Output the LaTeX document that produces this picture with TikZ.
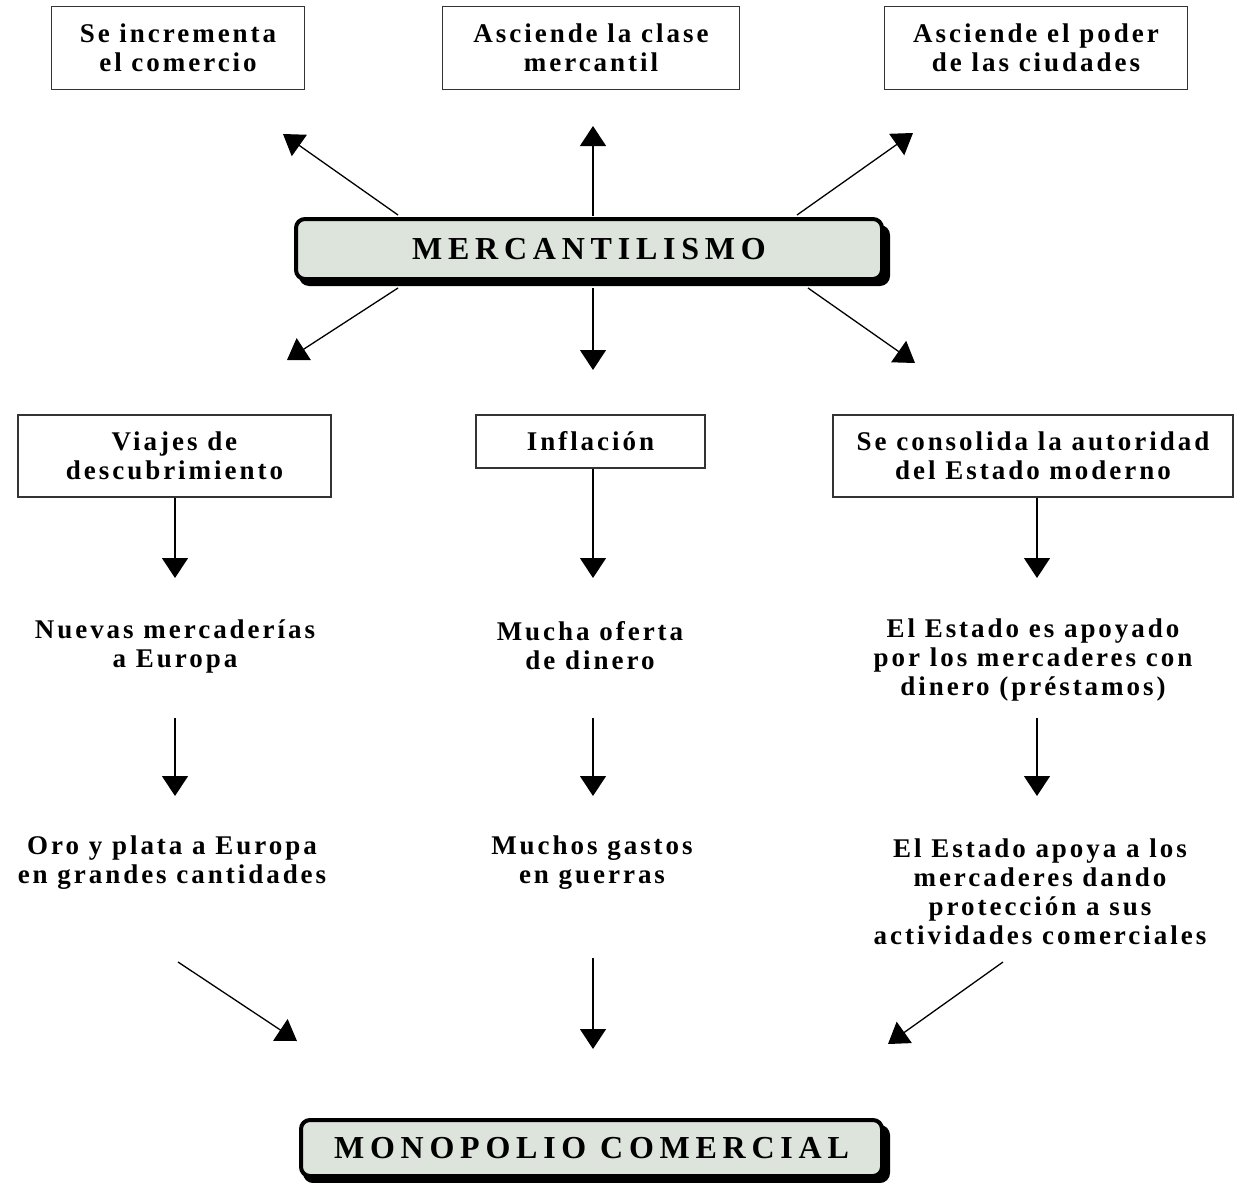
\documentclass[tikz,border=0pt]{standalone}
\usepackage{fontspec}
\setmainfont{Liberation Serif}
\usetikzlibrary{arrows.meta}
\definecolor{boxfill}{RGB}{221,228,220}
\begin{document}
\begin{tikzpicture}[x=1pt,y=-1pt,
  txt/.style={font=\bfseries\fontsize{27}{29}\selectfont\addfontfeatures{LetterSpace=11}, align=center, inner sep=0pt},
  plainbox/.style={txt, draw=black!80, line width=1.5pt},
  bigbox/.style={font=\bfseries\fontsize{32}{34}\selectfont\addfontfeatures{LetterSpace=18}, align=center, inner sep=0pt,
     fill=boxfill, draw=black, line width=4pt, rounded corners=9pt},
  arr/.style={line width=1.3pt, -{Triangle[length=20pt,width=26pt]}}]
\useasboundingbox (0,0) rectangle (1235,1183);
% top boxes
\node[plainbox, minimum width=253pt, minimum height=83pt] (t1) at (178,48) {Se incrementa\\el comercio};
\node[plainbox, minimum width=297pt, minimum height=83pt] (t2) at (591,48) {Asciende la clase\\mercantil};
\node[plainbox, minimum width=303pt, minimum height=83pt] (t3) at (1036,48) {Asciende el poder\\de las ciudades};
% mercantilismo
\fill[black, rounded corners=10pt] (299,225) rectangle (890,286);
\node[bigbox, minimum width=586pt, minimum height=60pt] (merc) at (589,249) {MERCANTILISMO};
% row 2 boxes
\node[plainbox, minimum width=313pt, minimum height=82pt] (b1) at (174.5,456) {Viajes de\\descubrimiento};
\node[plainbox, minimum width=229pt, minimum height=53pt] (b2) at (590.5,441.5) {Inflación};
\node[plainbox, minimum width=400pt, minimum height=82pt] (b3) at (1033,456) {Se consolida la autoridad\\del Estado moderno};
% row 3
\node[txt] (m1) at (175,646) {Nuevas mercaderías\\a Europa};
\node[txt] (m2) at (590,646) {Mucha oferta\\de dinero};
\node[txt] (m3) at (1033,660) {El Estado es apoyado\\por los mercaderes con\\dinero (préstamos)};
% row 4
\node[txt] (o1) at (172,863) {Oro y plata a Europa\\en grandes cantidades};
\node[txt] (o2) at (592,863) {Muchos gastos\\en guerras};
\node[txt] (o3) at (1040,892) {El Estado apoya a los\\mercaderes dando\\protección a sus\\actividades comerciales};
% monopolio
\fill[black, rounded corners=10pt] (303,1125) rectangle (890,1183);
\node[bigbox, minimum width=581pt, minimum height=56pt] (mono) at (591.5,1148) {MONOPOLIO COMERCIAL};
% arrow coordinates
\coordinate (u1s) at (398,215); \coordinate (u1e) at (283,134);
\coordinate (u2s) at (593,216); \coordinate (u2e) at (593,126);
\coordinate (u3s) at (797,215); \coordinate (u3e) at (913,133);
\coordinate (d1s) at (398,288); \coordinate (d1e) at (287,360);
\coordinate (d2s) at (593,288); \coordinate (d2e) at (593,370);
\coordinate (d3s) at (808,288); \coordinate (d3e) at (915,363);
\coordinate (v1e) at (175,578); \coordinate (v2e) at (593,578); \coordinate (v3e) at (1037,578);
\coordinate (w1s) at (175,718); \coordinate (w1e) at (175,796);
\coordinate (w2s) at (593,718); \coordinate (w2e) at (593,796);
\coordinate (w3s) at (1037,718); \coordinate (w3e) at (1037,796);
\coordinate (x1s) at (178,962); \coordinate (x1e) at (297,1041);
\coordinate (x2s) at (593,958); \coordinate (x2e) at (593,1049);
\coordinate (x3s) at (1003,962); \coordinate (x3e) at (888,1044);
\draw[arr] (u1s) -- (u1e);
\draw[arr] (u2s) -- (u2e);
\draw[arr] (u3s) -- (u3e);
\draw[arr] (d1s) -- (d1e);
\draw[arr] (d2s) -- (d2e);
\draw[arr] (d3s) -- (d3e);
\draw[arr] (b1.south -| v1e) -- (v1e);
\draw[arr] (b2.south -| v2e) -- (v2e);
\draw[arr] (b3.south -| v3e) -- (v3e);
\draw[arr] (w1s) -- (w1e);
\draw[arr] (w2s) -- (w2e);
\draw[arr] (w3s) -- (w3e);
\draw[arr] (x1s) -- (x1e);
\draw[arr] (x2s) -- (x2e);
\draw[arr] (x3s) -- (x3e);
\end{tikzpicture}
\end{document}
